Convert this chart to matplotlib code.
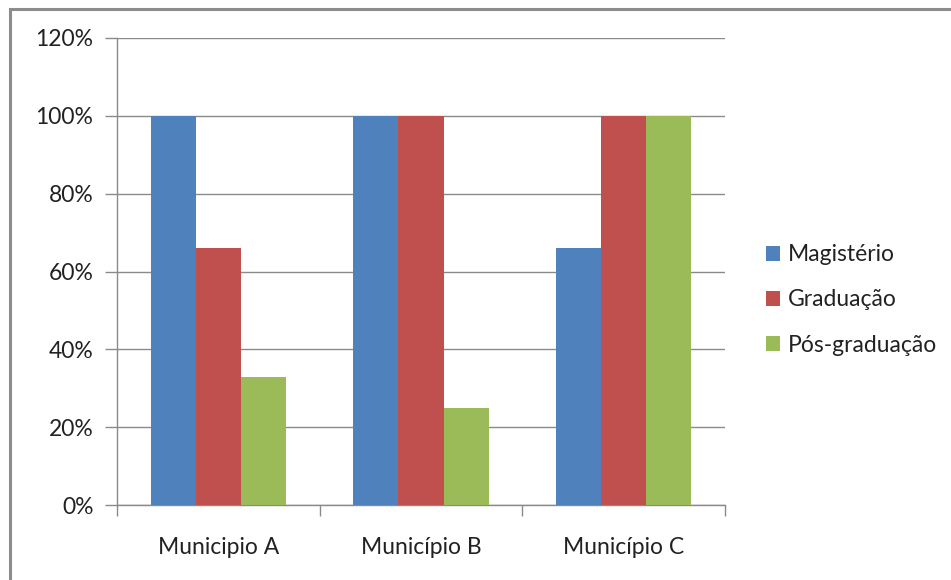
import matplotlib
matplotlib.use("Agg")
import matplotlib.pyplot as plt
from matplotlib.patches import Rectangle
from matplotlib.ticker import FixedLocator, PercentFormatter
import numpy as np

categories = ["Municipio A", "Município B", "Município C"]
series_names = ["Magistério", "Graduação", "Pós-graduação"]
magisterio = [100, 100, 66]
graduacao = [66, 100, 100]
pos_graduacao = [33, 25, 100]
colors = ["#4F81BD", "#C0504D", "#9BBB59"]

plt.rcParams['font.family'] = ['Lato', 'DejaVu Sans']

W, H = 951, 580
fig = plt.figure(figsize=(W / 100, H / 100), dpi=100)

# outer frame (top & left visible)
fig.patches.append(Rectangle((9.5 / W, -0.1), 1.2, (H - 9.5) / H + 0.1,
                             transform=fig.transFigure, fill=False,
                             edgecolor="#8c8c8c", linewidth=2.2))

ax = fig.add_axes([117 / W, 1 - 505 / H, 608 / W, 467 / H])

x = np.arange(len(categories))
w = 1 / 4.5
for i, (vals, name) in enumerate(zip([magisterio, graduacao, pos_graduacao], series_names)):
    ax.bar(x + (i - 1) * w, vals, width=w, color=colors[i], label=name, zorder=3)

ax.set_xlim(-0.5, 2.5)
ax.set_ylim(0, 120)
ax.set_yticks(np.arange(0, 121, 20))
ax.yaxis.set_major_formatter(PercentFormatter(decimals=0))
ax.grid(axis="y", color="#8a8a8a", linewidth=1, zorder=0)

fs = 16.5
ax.set_xticks(x)
ax.set_xticklabels(categories)
ax.xaxis.set_minor_locator(FixedLocator([-0.5, 0.5, 1.5, 2.5]))
ax.tick_params(axis="x", which="major", length=0, pad=23, labelsize=fs, colors="#222222")
ax.tick_params(axis="x", which="minor", length=8, color="#8a8a8a", width=1)
ax.tick_params(axis="y", length=9, color="#8a8a8a", width=1, labelsize=fs, pad=8, labelcolor="#222222")

for s in ["top", "right"]:
    ax.spines[s].set_visible(False)
for s in ["left", "bottom"]:
    ax.spines[s].set_color("#8a8a8a")
    ax.spines[s].set_linewidth(1)

leg = ax.legend(loc="center left", bbox_to_anchor=(766 / W, 1 - 300 / H),
                bbox_transform=fig.transFigure, frameon=False,
                handlelength=0.62, handleheight=0.62, handletextpad=0.35,
                labelspacing=1.05, fontsize=fs, borderaxespad=0, borderpad=0)
for t in leg.get_texts():
    t.set_color("#222222")

fig.savefig("out.png", dpi=100)
